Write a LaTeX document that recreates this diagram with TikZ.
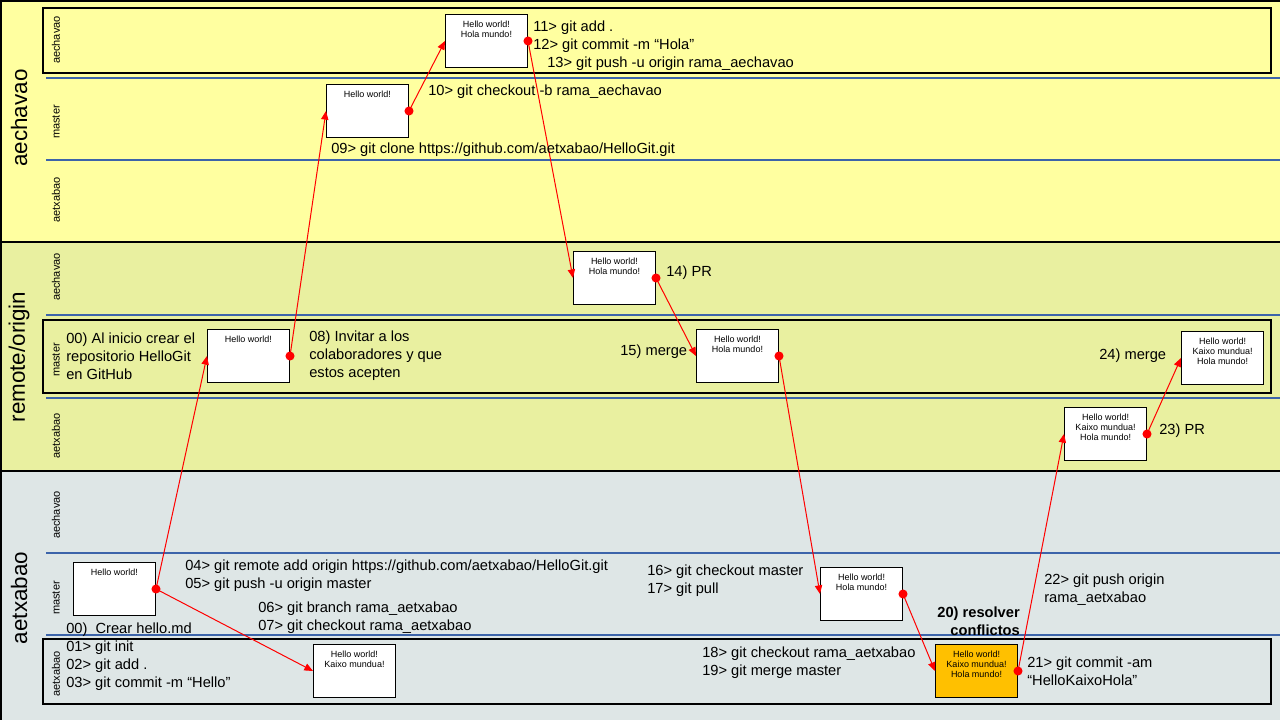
\documentclass[tikz,border=0pt]{standalone}
\usepackage{fontspec}
\setmainfont{Liberation Sans}
\usepackage{tikz}
\usetikzlibrary{arrows.meta}

\definecolor{bandA}{RGB}{255,255,160}
\definecolor{bandB}{RGB}{233,240,160}
\definecolor{bandC}{RGB}{222,230,230}
\definecolor{sepblue}{RGB}{60,100,170}
\definecolor{conflict}{RGB}{255,192,0}

\begin{document}
\begin{tikzpicture}[x=0.75pt,y=0.75pt,yscale=-1,xscale=1,
  commit/.style={draw, line width=0.75pt, fill=white, anchor=north west, minimum width=61.5pt, minimum height=39.75pt, inner sep=0pt},
  inbox/.style={anchor=north, align=center, inner xsep=0pt, inner ysep=5.4pt, font=\fontsize{6.75}{7.5}\selectfont},
  cmd/.style={anchor=west, align=left, inner sep=0pt, font=\fontsize{11}{13.4}\selectfont},
  lane/.style={rotate=90, inner sep=0pt, font=\fontsize{8.25}{9}\selectfont},
  repo/.style={rotate=90, inner sep=0pt, font=\fontsize{16.8}{20}\selectfont},
  flow/.style={draw=red, line width=0.75pt, -{Triangle[length=6.5pt,width=5.5pt]}},
  active/.style={draw, line width=1pt},
  sep/.style={draw=sepblue, line width=0.9pt}
]
\useasboundingbox (0,0) rectangle (1280,720);

%Bands
\fill[bandA] (0,0) rectangle (1280,242);
\fill[bandB] (0,242) rectangle (1280,471);
\fill[bandC] (0,471) rectangle (1280,720);
\draw[line width=1.1pt] (0,0.8) -- (1280,0.8) ;
\draw[line width=1.1pt] (0.8,0) -- (0.8,720) ;
\draw[line width=1.1pt] (0,242) -- (1280,242) ;
\draw[line width=1.1pt] (0,471) -- (1280,471) ;

%Lanes
\foreach \y in {78,160,315,398,553,635}
  \draw[sep] (46,\y) -- (1280,\y) ;
\foreach \t/\b in {8/73,320/393,639/704}
  \draw[active] (43,\t) rectangle (1271,\b) ;

% Repo labels
\node[repo] (repoA) at (19,118) {aechavao};
\node[repo] (repoO) at (19,357) {remote/origin};
\node[repo] (repoX) at (19,598) {aetxabao};

% Branch labels
\foreach \y/\n in {40/aechavao,122/master,200/aetxabao,277/aechavao,360/master,436/aetxabao,515/aechavao,598/master,674/aetxabao}
  \node[lane] (lane\y) at (56,\y) {\n};

% Commits
\node[commit, label={[inbox]north:Hello world!}] (c1) at (73,562) {};
\node[commit, label={[inbox]north:{Hello world!\\Kaixo mundua!}}] (c2) at (313,644) {};
\node[commit, label={[inbox]north:Hello world!}] (c3) at (207,329) {};
\node[commit, label={[inbox]north:Hello world!}] (c4) at (326,84) {};
\node[commit, label={[inbox]north:{Hello world!\\Hola mundo!}}] (c5) at (445,14) {};
\node[commit, label={[inbox]north:{Hello world!\\Hola mundo!}}] (c6) at (573,251) {};
\node[commit, label={[inbox]north:{Hello world!\\Hola mundo!}}] (c7) at (696,329) {};
\node[commit, label={[inbox]north:{Hello world!\\Hola mundo!}}] (c8) at (820,567) {};
\node[commit, fill=conflict, label={[inbox]north:{Hello world!\\Kaixo mundua!\\Hola mundo!}}] (c9) at (935,644) {};
\node[commit, label={[inbox]north:{Hello world!\\Kaixo mundua!\\Hola mundo!}}] (c10) at (1064,407) {};
\node[commit, label={[inbox]north:{Hello world!\\Kaixo mundua!\\Hola mundo!}}] (c11) at (1181,331) {};

% Flow
\draw[flow] (c1.east) -- (c3.west) ;
\draw[flow] (c1.east) -- (c2.west) ;
\draw[flow] (c3.east) -- (c4.west) ;
\draw[flow] (c4.east) -- (c5.west) ;
\draw[flow] (c5.east) -- (c6.west) ;
\draw[flow] (c6.east) -- (c7.west) ;
\draw[flow] (c7.east) -- (c8.west) ;
\draw[flow] (c8.east) -- (c9.west) ;
\draw[flow] (c9.east) -- (c10.west) ;
\draw[flow] (c10.east) -- (c11.west) ;
\foreach \n in {c1,c3,c4,c5,c6,c7,c8,c9,c10}
  \fill[red] (\n.east) circle (3.4pt) ;

% Text Node
\node[cmd] (t11) at (533,46) {11> git add .\\12> git commit -m “Hola”\\\hspace*{10.5pt}13> git push -u origin rama\_aechavao};
% Text Node
\node[cmd] (t10) at (428,92) {10> git checkout -b rama\_aechavao};
% Text Node
\node[cmd] (t09) at (331,150) {09> git clone https://github.com/aetxabao/HelloGit.git};
% Text Node
\node[cmd] (t00r) at (66,356) {00) Al inicio crear el\\repositorio HelloGit\\en GitHub};
% Text Node
\node[cmd] (t08) at (309,356) {08) Invitar a los\\colaboradores y que\\estos acepten};
% Text Node
\node[cmd] (t14) at (666,273) {14) PR};
% Text Node
\node[cmd] (t15) at (620,352) {15) merge};
% Text Node
\node[cmd] (t24) at (1099,356) {24) merge};
% Text Node
\node[cmd] (t23) at (1159,431) {23) PR};
% Text Node
\node[cmd] (t04) at (185,575.5) {04> git remote add origin https://github.com/aetxabao/HelloGit.git\\05> git push -u origin master};
% Text Node
\node[cmd] (t06) at (258,618) {06> git branch rama\_aetxabao\\07> git checkout rama\_aetxabao};
% Text Node
\node[cmd] (t00l) at (66,657) {00)~ Crear hello.md\\01> git init\\02> git add .\\03> git commit -m “Hello”};
% Text Node
\node[cmd] (t16) at (647,580.5) {16> git checkout master\\17> git pull};
% Text Node
\node[cmd] (t22) at (1044,589.5) {22> git push origin\\rama\_aetxabao};
% Text Node
\node[cmd, anchor=east, align=right, font=\fontsize{11}{13.4}\selectfont\bfseries] (t20) at (1020,621.5) {20) resolver\\conflictos};
% Text Node
\node[cmd] (t18) at (702,662.5) {18> git checkout rama\_aetxabao\\19> git merge master};
% Text Node
\node[cmd] (t21) at (1027,671) {21> git commit -am\\“HelloKaixoHola”};

\end{tikzpicture}
\end{document}
